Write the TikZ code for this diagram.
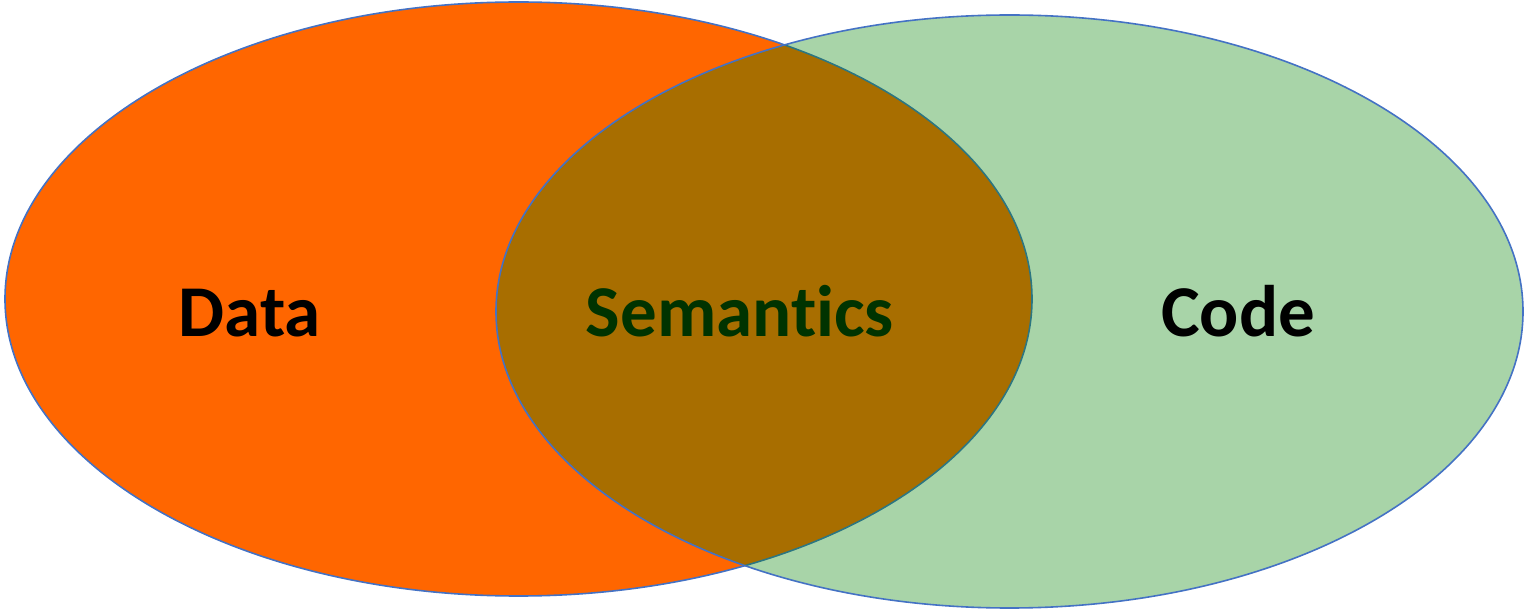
\documentclass[tikz,border=0pt]{standalone}
\usepackage{fontspec}
\setmainfont{Carlito}[Ligatures=NoCommon]
\definecolor{dataorange}{RGB}{255,102,0}
\definecolor{codegreen}{RGB}{0,128,0}
\definecolor{rimblue}{RGB}{68,114,196}
\definecolor{semgreen}{RGB}{0,51,0}
\tikzset{
  rim/.style={draw=rimblue, line width=1.6pt},
  label/.style={font=\fontsize{73}{80}\selectfont\bfseries, anchor=base},
}
\begin{document}
\begin{tikzpicture}[x=1pt,y=1pt]
  \useasboundingbox (0,0) rectangle (1526,611);
  % Data set
  \path[rim, fill=dataorange] (518.5,312) ellipse [x radius=513.5, y radius=297];
  % Code set, translucent so the overlap shows through
  \path[fill=codegreen, fill opacity=0.34] (1009.5,299.5) ellipse [x radius=513.5, y radius=296.5];
  \path[rim] (1009.5,299.5) ellipse [x radius=513.5, y radius=296.5];
  % Labels
  \node[label] (data) at (250,274) {Data};
  \node[label, text=semgreen] (sem) at (740,274) {Semantics};
  \node[label] (code) at (1238,274) {Code};
\end{tikzpicture}
\end{document}
